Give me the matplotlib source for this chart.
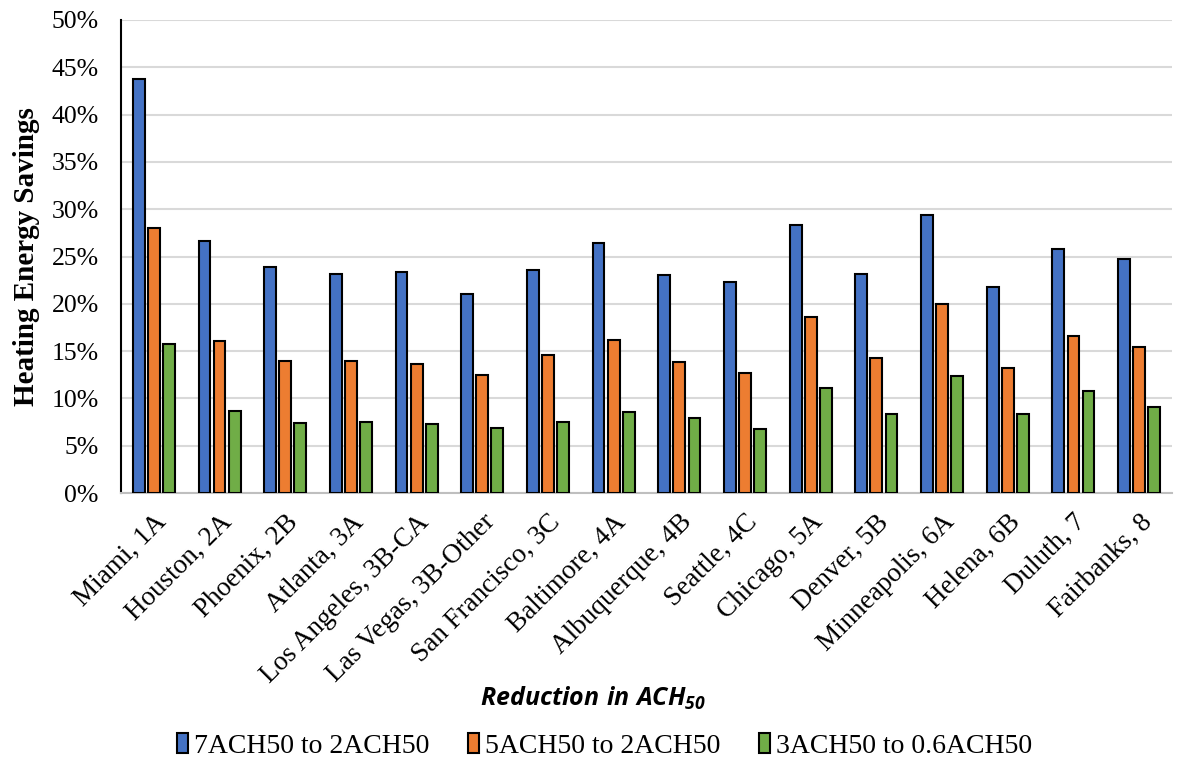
import numpy as np
import matplotlib
matplotlib.use("Agg")
import matplotlib.pyplot as plt
from matplotlib.ticker import PercentFormatter

# DADOS
cidades = ["Miami, 1A", "Houston, 2A", "Phoenix, 2B", "Atlanta, 3A",
           "Los Angeles, 3B-CA", "Las Vegas, 3B-Other", "San Francisco, 3C",
           "Baltimore, 4A", "Albuquerque, 4B", "Seattle, 4C", "Chicago, 5A",
           "Denver, 5B", "Minneapolis, 6A", "Helena, 6B", "Duluth, 7",
           "Fairbanks, 8"]
ach7_2 = [43.8, 26.6, 23.9, 23.2, 23.4, 21.0, 23.6, 26.4, 23.0, 22.3,
          28.3, 23.1, 29.4, 21.8, 25.8, 24.7]
ach5_2 = [28.0, 16.1, 14.0, 14.0, 13.6, 12.5, 14.6, 16.2, 13.8, 12.7,
          18.6, 14.3, 20.0, 13.2, 16.6, 15.4]
ach3_06 = [15.8, 8.7, 7.4, 7.5, 7.3, 6.9, 7.5, 8.6, 7.9, 6.8,
           11.1, 8.3, 12.4, 8.3, 10.8, 9.1]
series = ["7ACH50 to 2ACH50", "5ACH50 to 2ACH50", "3ACH50 to 0.6ACH50"]
cores = ["#4472C4", "#ED7D31", "#70AD47"]

plt.rcParams["font.family"] = ["Liberation Serif", "DejaVu Serif"]
plt.rcParams["mathtext.fontset"] = "custom"
plt.rcParams["mathtext.it"] = "Open Sans:bold:italic"
plt.rcParams["mathtext.rm"] = "Open Sans:bold:italic"

fig = plt.figure(figsize=(11.85, 7.6), dpi=100)
ax = fig.add_axes([121 / 1185, 1 - 493 / 760, 1051 / 1185, 473 / 760])

x = np.arange(len(cidades))
largura = 0.18
passo = 0.23
for i, (vals, nome, cor) in enumerate(zip([ach7_2, ach5_2, ach3_06], series, cores)):
    ax.bar(x + (i - 1) * passo, vals, width=largura, color=cor,
           edgecolor="black", linewidth=1.5, label=nome, zorder=3)

ax.set_xlim(-0.5, len(cidades) - 0.5)
ax.set_ylim(0, 50)
ax.set_yticks(np.arange(0, 51, 5))
ax.yaxis.set_major_formatter(PercentFormatter(decimals=0))
ax.grid(axis="y", color="#d9d9d9", linewidth=1.5, zorder=0)
ax.set_axisbelow(True)

ax.set_xticks(x)
ax.set_xticklabels(cidades, rotation=45, ha="right", rotation_mode="anchor",
                   fontsize=19.5)
ax.tick_params(axis="x", length=0, pad=12)
ax.tick_params(axis="y", labelsize=18.5, length=0, pad=16)

for lado in ["top", "right"]:
    ax.spines[lado].set_visible(False)
ax.spines["left"].set_color("black")
ax.spines["left"].set_linewidth(1.5)
ax.spines["bottom"].set_color("#bfbfbf")
ax.spines["bottom"].set_linewidth(1.5)

ax.set_ylabel("Heating Energy Savings", fontsize=21, fontweight="bold", labelpad=8)
fig.text(0.5, 1 - 698 / 760, r"$Reduction\ in\ ACH_{50}$", ha="center",
         va="center", fontsize=18)

fig.legend(loc="center", bbox_to_anchor=(0.51, 1 - 746 / 760), ncol=3,
           frameon=False, fontsize=20, handlelength=0.4, handleheight=0.75,
           handletextpad=0.2, columnspacing=1.4)

plt.savefig("out.png", dpi=100)
